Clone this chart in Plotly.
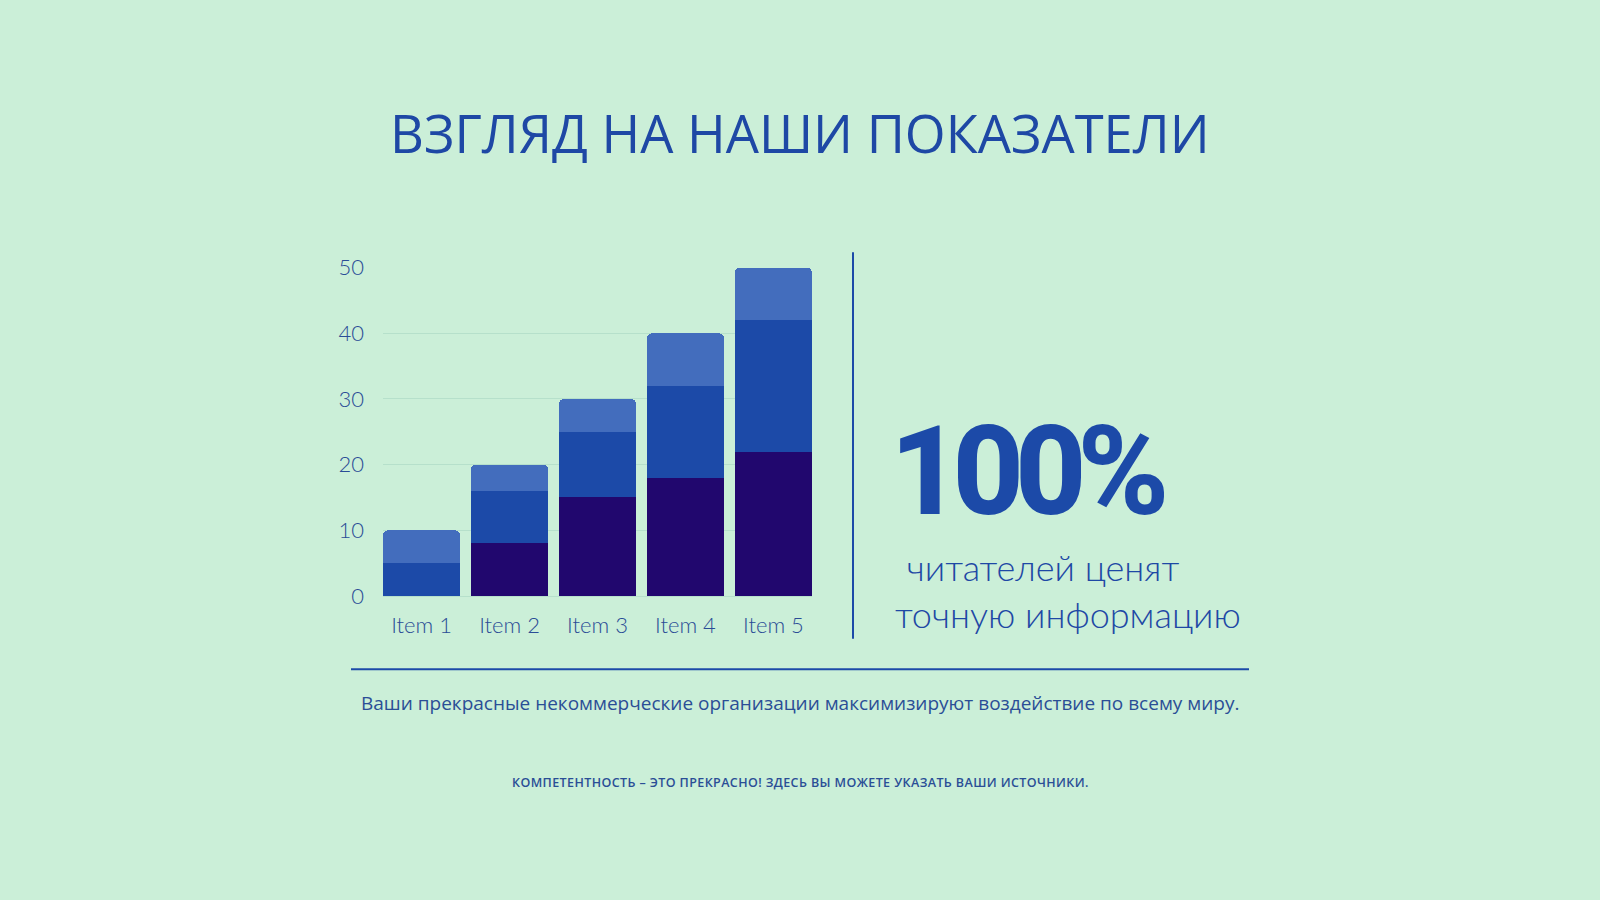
import plotly.graph_objects as go

categories = ["Item 1", "Item 2", "Item 3", "Item 4", "Item 5"]
series_bottom = [0, 8, 15, 18, 22]
series_middle = [5, 8, 10, 14, 20]
series_top = [5, 4, 5, 8, 8]
y_ticks = [0, 10, 20, 30, 40, 50]

title_text = "ВЗГЛЯД НА НАШИ ПОКАЗАТЕЛИ"
big_stat = "100%"
stat_line1 = "\u00a0читателей ценят"
stat_line2 = "точную информацию"
footer1 = "Ваши прекрасные некоммерческие организации максимизируют воздействие по всему миру."
footer2 = "КОМПЕТЕНТНОСТЬ – ЭТО ПРЕКРАСНО! ЗДЕСЬ ВЫ МОЖЕТЕ УКАЗАТЬ ВАШИ ИСТОЧНИКИ."

BG = "#CBEFD8"
DARK = "#21076E"
MID = "#1C4AA8"
LIGHT = "#436DBD"
TEXT = "#1E48A5"
TICK = "#2A4C96"
SUB = "#2A4E96"
W, H = 1600, 900

def px(x):
    return x / W

def py(y):
    return 1 - y / H

fig = go.Figure()
for vals, col in [(series_bottom, DARK), (series_middle, MID), (series_top, LIGHT)]:
    fig.add_trace(go.Bar(x=categories, y=vals, marker=dict(color=col, line=dict(width=0)),
                         hoverinfo="skip", showlegend=False))

gap = 0.1225
fig.update_layout(
    width=W, height=H,
    margin=dict(l=0, r=0, t=0, b=0),
    paper_bgcolor=BG, plot_bgcolor=BG,
    barmode="stack", bargap=gap, barcornerradius=5,
    xaxis=dict(domain=[px(383), px(812)], range=[-0.5 + gap / 2, 4.5 - gap / 2],
               showgrid=False, zeroline=False, showline=False, ticks="",
               tickfont=dict(family="Lato, Open Sans", size=22, color=TICK, weight=300),
               ticklabelstandoff=14),
    yaxis=dict(domain=[py(600), py(261.5)], range=[0, 50], tickvals=y_ticks,
               showgrid=True, gridcolor="#B6E0CB", gridwidth=1,
               zeroline=True, zerolinecolor="#B6E0CB", zerolinewidth=1,
               showline=False, ticks="",
               tickfont=dict(family="Lato, Open Sans", size=22, color=TICK, weight=300),
               ticklabelstandoff=18),
    font=dict(family="Open Sans", color=TEXT),
)

shapes = [
    dict(type="line", xref="paper", yref="paper", x0=px(853), x1=px(853), y0=py(245.5), y1=py(644),
         line=dict(color=MID, width=2)),
    dict(type="line", xref="paper", yref="paper", x0=px(351), x1=px(1249), y0=py(675.5), y1=py(675.5),
         line=dict(color=MID, width=2)),
]
fig.update_layout(shapes=shapes)

ann = [
    dict(text=title_text, x=px(800), y=py(122.5), xanchor="center", yanchor="middle",
         font=dict(family="Open Sans", size=52.5, color=TEXT)),
    dict(text='<span style="letter-spacing:-9px">' + big_stat + '</span>', x=px(888), y=py(471.5),
         xanchor="left", yanchor="middle",
         font=dict(family="Roboto", size=124, color=MID, weight=800)),
    dict(text=stat_line1, x=px(895), y=py(570), xanchor="left", yanchor="middle",
         font=dict(family="Lato", size=36, color=TEXT, weight=300)),
    dict(text=stat_line2, x=px(893), y=py(619), xanchor="left", yanchor="middle",
         font=dict(family="Lato", size=36, color=TEXT, weight=300)),
    dict(text=footer1, x=px(800), y=py(710.5), xanchor="center", yanchor="middle",
         font=dict(family="Open Sans", size=19, color=SUB)),
    dict(text='<span style="letter-spacing:0.4px">' + footer2 + '</span>', x=px(800), y=py(792.5),
         xanchor="center", yanchor="middle",
         font=dict(family="Open Sans", size=12.5, color=SUB, weight=600)),
]
for a in ann:
    a.update(xref="paper", yref="paper", showarrow=False)
fig.update_layout(annotations=ann)

fig.write_html("out.html", config={"displayModeBar": False},
               post_script="document.body.style.margin='0';document.body.style.background='%s';" % BG)
